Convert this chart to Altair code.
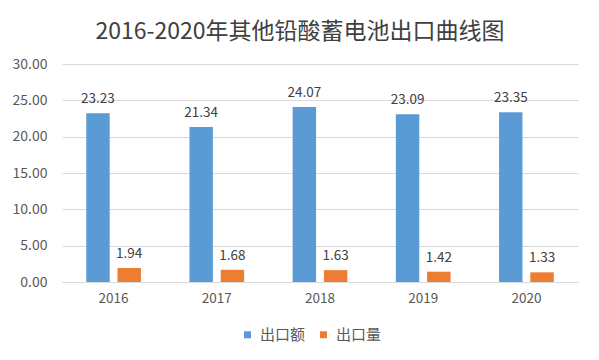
import altair as alt
import pandas as pd

years = ["2016", "2017", "2018", "2019", "2020"]
series = ["出口额", "出口量"]
export_value = [23.23, 21.34, 24.07, 23.09, 23.35]
export_volume = [1.94, 1.68, 1.63, 1.42, 1.33]
y_ticks = [0, 5, 10, 15, 20, 25, 30]
colors = ["#5B9BD5", "#ED7D31"]

rows = []
for i, y in enumerate(years):
    rows.append({"year": y, "series": series[0], "value": export_value[i]})
    rows.append({"year": y, "series": series[1], "value": export_volume[i]})
df = pd.DataFrame(rows)

FONT = "Noto Sans CJK SC"

x = alt.X("year:N", sort=years, title=None,
          scale=alt.Scale(paddingInner=0.47, paddingOuter=0.235),
          axis=alt.Axis(labelAngle=0, ticks=False, domain=True, domainColor="#D9D9D9",
                        labelFont=FONT, labelFontSize=13.5, labelColor="#595959",
                        labelPadding=9))
xo = alt.XOffset("series:N", sort=series, scale=alt.Scale(paddingInner=0.25, paddingOuter=0))
y = alt.Y("value:Q", title=None,
          scale=alt.Scale(domain=[0, 30], nice=False),
          axis=alt.Axis(values=y_ticks, format=".2f", ticks=False, domain=False,
                        labelOverlap=False, gridColor="#D9D9D9", labelFont=FONT, labelFontSize=14,
                        labelColor="#595959", labelPadding=15))

base = alt.Chart(df).encode(x=x, xOffset=xo, y=y)

bars = base.mark_bar().encode(
    color=alt.Color("series:N", sort=series, title=None,
                    scale=alt.Scale(domain=series, range=colors),
                    legend=alt.Legend(orient="none", direction="horizontal", legendX=178, legendY=263,
                                      symbolType="square", symbolSize=49, symbolStrokeWidth=0,
                                      labelFont=FONT, labelFontSize=15, labelColor="#595959",
                                      labelOffset=5, columnPadding=10, padding=0)),
)

labels = base.mark_text(baseline="bottom", dy=-7, font=FONT, fontSize=13.5, color="#404040").encode(
    text=alt.Text("value:Q", format=".2f"),
)

chart = alt.layer(bars, labels).properties(
    width=516, height=218,
    autosize=alt.AutoSizeParams(type="none"),
    padding={"left": 54, "top": 56, "right": 13, "bottom": 70},
    title=alt.TitleParams("2016-2020年其他铅酸蓄电池出口曲线图", font=FONT, fontSize=23,
                          fontWeight="normal", color="#404040", anchor="middle", dx=-20, offset=13),
).configure_view(stroke=None)

chart.save("out.html", embed_options={"renderer": "svg", "actions": False})
